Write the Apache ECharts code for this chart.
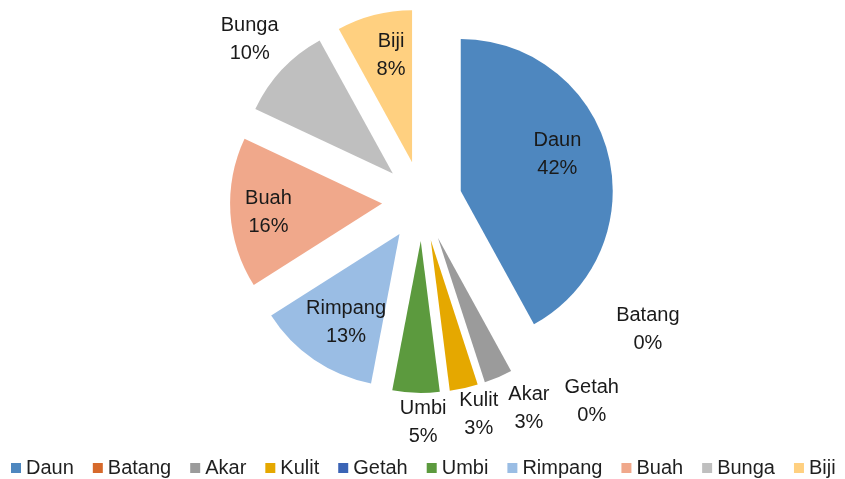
<!DOCTYPE html>
<html>
<head>
<meta charset="utf-8">
<script src="https://cdn.jsdelivr.net/npm/echarts@6/dist/echarts.min.js"></script>
<style>
  html, body { margin: 0; padding: 0; background: #fff; }
  #chart { width: 845px; height: 479px; }
</style>
</head>
<body>
<div id="chart"></div>
<script>
// bagian tanaman yang dipakai (%)
const parts = ['Daun', 'Batang', 'Akar', 'Kulit', 'Getah', 'Umbi', 'Rimpang', 'Buah', 'Bunga', 'Biji'];
const shares = [42, 0, 3, 3, 0, 5, 13, 16, 10, 8];
const colors = ['#4E87BF', '#D6692B', '#9B9B9B', '#E5A800', '#3B64B5', '#5C9A3E', '#9ABDE4', '#F0A88B', '#BFBFBF', '#FFD080'];

// label placement: distance from pie centre and turn from the slice bisector (deg)
const labelDist = [143, 260, 233, 221, 263, 221, 143, 154, 236, 149];
const labelTurn = [-4.4, -31.5, -3.9, -2.3, -33, -2.1, -2.1, -0.5, -0.1, 2.4];

const W = 845, H = 479;
const CX = 422, CY = 201, R = 152, EXPLODE = 40;
const FONT = 'Liberation Sans';

const total = shares.reduce((a, b) => a + b, 0);
const bisector = [];
let acc = 0;
shares.forEach((v) => {
  bisector.push((acc + v / 2) / total * 360);
  acc += v;
});

// label anchors, worked out from each slice's angle
const labelPoints = parts.map((name, i) => {
  const a = (bisector[i] + labelTurn[i]) * Math.PI / 180;
  return {
    value: [CX + labelDist[i] * Math.sin(a), CY - labelDist[i] * Math.cos(a)],
    name,
    pct: Math.round(shares[i] / total * 100),
  };
});

const chart = echarts.init(document.getElementById('chart'), null, { renderer: 'canvas' });

chart.setOption({
  animation: false,
  color: colors,
  grid: { left: 0, right: 0, top: 0, bottom: 0 },
  xAxis: { type: 'value', min: 0, max: W, show: false },
  yAxis: { type: 'value', min: 0, max: H, inverse: true, show: false },
  legend: {
    data: parts,
    left: 11,
    top: 458,
    width: 840,
    padding: 0,
    icon: 'rect',
    itemWidth: 10,
    itemHeight: 10,
    itemGap: 19,
    selectedMode: false,
    textStyle: { fontFamily: FONT, fontSize: 20, color: '#1f1f1f' },
  },
  series: [
    {
      type: 'pie',
      center: [CX, CY],
      radius: R,
      startAngle: 90,
      clockwise: true,
      selectedMode: 'multiple',
      selectedOffset: EXPLODE,
      emphasis: { disabled: true },
      label: { show: false },
      labelLine: { show: false },
      data: parts.map((name, i) => ({ name, value: shares[i], selected: true })),
    },
    {
      type: 'scatter',
      silent: true,
      symbolSize: 0,
      itemStyle: { opacity: 1 },
      data: labelPoints,
      label: {
        show: true,
        position: 'inside',
        formatter: (p) => p.data.name + '\n' + p.data.pct + '%',
        fontFamily: FONT,
        fontSize: 20,
        lineHeight: 28,
        color: '#1a1a1a',
        opacity: 1,
        align: 'center',
        verticalAlign: 'middle',
      },
    },
  ],
});
</script>
</body>
</html>
